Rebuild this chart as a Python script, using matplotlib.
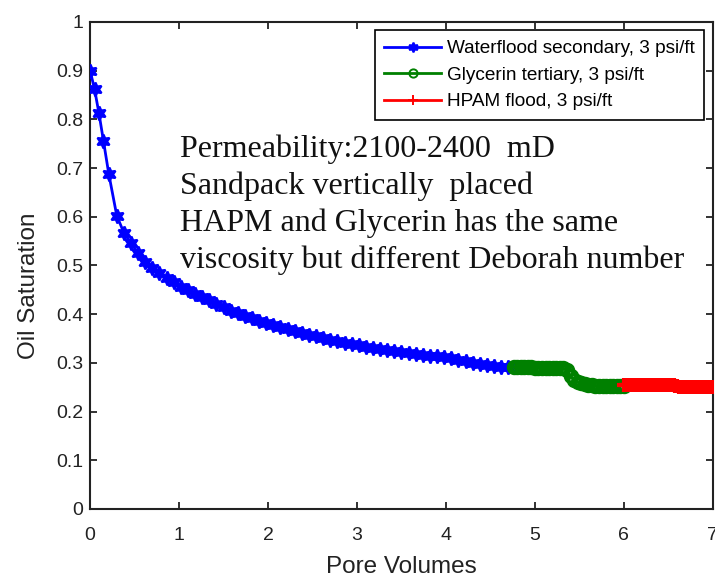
import matplotlib
matplotlib.use("Agg")
import matplotlib.pyplot as plt
from matplotlib.ticker import FuncFormatter

# ---- data ----
# waterflood (secondary)
wf_pv = [0.00, 0.05, 0.10, 0.15, 0.21, 0.30, 0.38, 0.46, 0.54,
         0.62, 0.70, 0.78, 0.86, 0.94, 1.02, 1.10, 1.18, 1.26, 1.34,
         1.42, 1.50, 1.58, 1.66, 1.74, 1.82, 1.90, 1.98, 2.06, 2.14,
         2.22, 2.30, 2.38, 2.46, 2.54, 2.62, 2.70, 2.78, 2.86, 2.94,
         3.02, 3.10, 3.18, 3.26, 3.34, 3.42, 3.50, 3.58, 3.66, 3.74,
         3.82, 3.90, 3.98, 4.06, 4.14, 4.22, 4.30, 4.38, 4.46, 4.54,
         4.62, 4.70]
wf_so = [0.900, 0.862, 0.812, 0.756, 0.688, 0.602, 0.567, 0.546, 0.525,
         0.508, 0.495, 0.485, 0.475, 0.466, 0.456, 0.449, 0.442, 0.435, 0.428,
         0.421, 0.414, 0.407, 0.402, 0.397, 0.392, 0.386, 0.381, 0.377, 0.373,
         0.369, 0.365, 0.361, 0.358, 0.355, 0.351, 0.347, 0.344, 0.341, 0.338,
         0.336, 0.333, 0.331, 0.329, 0.327, 0.325, 0.323, 0.321, 0.319, 0.317,
         0.315, 0.313, 0.311, 0.309, 0.306, 0.303, 0.300, 0.298, 0.296, 0.294,
         0.292, 0.291]

# glycerin (tertiary)
gly_pv = [4.76, 4.80, 4.84, 4.88, 4.92, 4.96, 5.00, 5.04, 5.08, 5.12,
          5.16, 5.20, 5.24, 5.28, 5.32, 5.36, 5.40, 5.44, 5.48, 5.52,
          5.56, 5.60, 5.64, 5.68, 5.72, 5.76, 5.80, 5.84, 5.88, 5.92,
          5.96, 6.00]
gly_so = [0.291, 0.291, 0.291, 0.291, 0.291, 0.291, 0.290, 0.290, 0.290, 0.290,
          0.290, 0.290, 0.290, 0.290, 0.289, 0.285, 0.272, 0.264, 0.260, 0.258,
          0.257, 0.255, 0.254, 0.253, 0.253, 0.253, 0.253, 0.253, 0.253, 0.253,
          0.253, 0.253]

# HPAM flood
hpam_pv = [6.00, 6.02, 6.04, 6.06, 6.08, 6.10, 6.12, 6.14, 6.16, 6.18,
           6.20, 6.22, 6.24, 6.26, 6.28, 6.30, 6.32, 6.34, 6.36, 6.38,
           6.40, 6.42, 6.44, 6.46, 6.48, 6.50, 6.52, 6.54, 6.56, 6.58,
           6.60, 6.62, 6.64, 6.66, 6.68, 6.70, 6.72, 6.74, 6.76, 6.78,
           6.80, 6.82, 6.84, 6.86, 6.88, 6.90, 6.92, 6.94, 6.96, 6.98,
           7.00]
hpam_so = [0.254, 0.254, 0.254, 0.254, 0.254, 0.254, 0.254, 0.254, 0.254, 0.254,
           0.254, 0.254, 0.254, 0.254, 0.254, 0.254, 0.254, 0.254, 0.254, 0.254,
           0.254, 0.254, 0.254, 0.254, 0.254, 0.254, 0.254, 0.254, 0.254, 0.253,
           0.252, 0.251, 0.250, 0.250, 0.250, 0.250, 0.250, 0.250, 0.250, 0.250,
           0.250, 0.250, 0.250, 0.250, 0.250, 0.250, 0.250, 0.250, 0.250, 0.250,
           0.250]

labels = ["Waterflood secondary, 3 psi/ft",
          "Glycerin tertiary, 3 psi/ft",
          "HPAM flood, 3 psi/ft"]

note_lines = ["Permeability:2100-2400  mD",
              "Sandpack vertically  placed",
              "HAPM and Glycerin has the same",
              "viscosity but different Deborah number"]

# ---- plot ----
plt.rcParams['font.family'] = ['Liberation Sans', 'DejaVu Sans']
ink = '#222222'

fig = plt.figure(figsize=(7.15, 5.77), dpi=100)
ax = fig.add_axes([0.126, 0.118, 0.871, 0.844])

ax.plot(wf_pv, wf_so, color='blue', lw=2, marker=(6, 1, 0), ms=10,
        mew=1.6, label=labels[0], zorder=3)
ax.plot(gly_pv, gly_so, color='green', lw=2, marker='o', ms=8.5,
        mfc='none', mew=2.6, label=labels[1], zorder=3)
ax.plot(hpam_pv, hpam_so, color='red', lw=2, marker='+', ms=10,
        mew=3, label=labels[2], zorder=3)

ax.set_xlim(0, 7)
ax.set_ylim(0, 1)
ax.set_xticks(range(0, 8))
ax.set_yticks([i / 10 for i in range(11)])
ax.yaxis.set_major_formatter(FuncFormatter(lambda v, p: f"{v:g}"))

ax.tick_params(direction='in', length=5, width=1.3, top=True, right=True,
               labelsize=14, colors=ink)
ax.tick_params(axis='x', pad=13)
ax.tick_params(axis='y', pad=5)
for sp in ax.spines.values():
    sp.set_linewidth(1.5)
    sp.set_color(ink)

ax.set_xlabel("Pore Volumes", fontsize=17.5, color=ink, labelpad=9)
ax.set_ylabel("Oil Saturation", fontsize=17.5, color=ink)
ax.yaxis.set_label_coords(-0.080, 0.458)

leg = ax.legend(loc='upper right', fontsize=13.7, frameon=True, fancybox=False,
                edgecolor='black', borderaxespad=0.45, handlelength=3.0,
                handletextpad=0.3, borderpad=0.5, labelspacing=0.48,
                markerscale=0.7)
leg.get_frame().set_linewidth(1.2)
leg.get_frame().set_alpha(1)
for h in leg.legend_handles:
    h.set_markeredgewidth(1.4)

# annotation block, one line per baseline
for i, line in enumerate(note_lines):
    ax.text(0.1445, 0.723 - i * 0.0764, line, transform=ax.transAxes,
            fontsize=23, family=['Liberation Serif', 'DejaVu Serif'],
            va='baseline', ha='left', color='#111111')

fig.savefig("out.png", dpi=100)
